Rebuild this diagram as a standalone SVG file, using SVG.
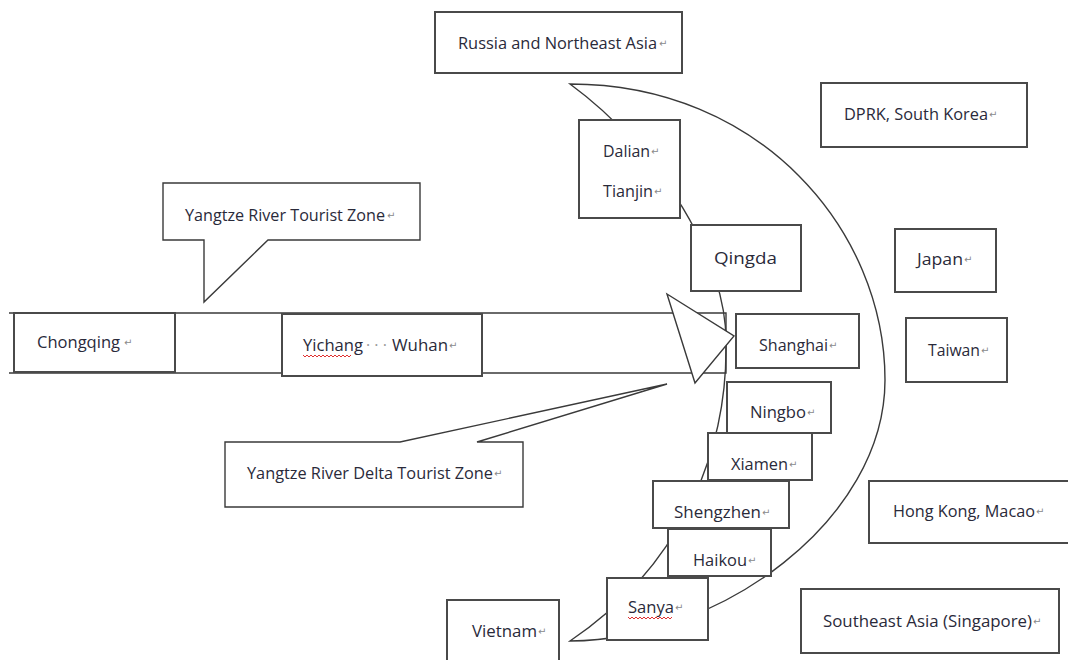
<svg xmlns="http://www.w3.org/2000/svg" width="1068" height="660" viewBox="0 0 1068 660">
<style>
.bx{fill:#fff;stroke:#4a4a4a;stroke-width:2}
.ln{fill:none;stroke:#3a3a3a;stroke-width:1.4}
.sh{fill:#fff;stroke:#3a3a3a;stroke-width:1.4}
.t{font-family:"Open Sans","Noto Sans",sans-serif;font-size:16px;fill:#2a2a3a}
.pm{font-family:"DejaVu Sans",sans-serif;font-size:10px;fill:#8a8a8a}
.sq{fill:none;stroke:#e03030;stroke-width:1}
</style>
<rect width="1068" height="660" fill="#fff"/>
<g id="connectors">
<path id="crescent" class="ln" d="M570,84 C760,84 885,230 885,380 C885,520 720,640 570,641 C690,560 727,440 726,345 C728,260 660,150 570,84 Z"/>
</g>
<g id="river">
<path class="ln" d="M9,313 H726 V373 H9"/>
<polygon class="sh" points="667,294 734,336 695,383"/>
</g>
<g id="callout-yangtze">
<path class="sh" d="M163,183 H420 V240 H268 L204,302 V240 H163 Z"/>
<text class="t" x="185" y="221" textLength="200" lengthAdjust="spacingAndGlyphs">Yangtze River Tourist Zone</text><text class="pm" x="387" y="219">↵</text>
</g>
<g id="callout-delta">
<path class="sh" d="M225,442 H400 L667,384 L477,442 H523 V507 H225 Z"/>
<text class="t" x="247" y="479" textLength="246" lengthAdjust="spacingAndGlyphs">Yangtze River Delta Tourist Zone</text><text class="pm" x="494" y="477">↵</text>
</g>
<g id="chongqing">
<rect class="bx" x="14" y="313" width="161" height="59"/>
<text class="t" x="37" y="348" textLength="83" lengthAdjust="spacingAndGlyphs">Chongqing</text><text class="pm" x="124" y="346">↵</text>
</g>
<g id="yichang-wuhan">
<rect class="bx" x="282" y="314" width="200" height="62"/>
<text class="t" y="351"><tspan x="303" textLength="60" lengthAdjust="spacingAndGlyphs">Yichang</tspan><tspan x="366" fill="#999">· · ·</tspan><tspan x="392" textLength="56" lengthAdjust="spacingAndGlyphs">Wuhan</tspan></text><text class="pm" x="449" y="349">↵</text>
<path class="sq" d="M303,355 l2,2 l2,-2 l2,2 l2,-2 l2,2 l2,-2 l2,2 l2,-2 l2,2 l2,-2 l2,2 l2,-2 l2,2 l2,-2 l2,2 l2,-2 l2,2 l2,-2 l2,2 l2,-2 l2,2 l2,-2 l2,2 l2,-2"/>
</g>
<g id="russia">
<rect class="bx" x="435" y="12" width="247" height="61"/>
<text class="t" x="458" y="49" textLength="199" lengthAdjust="spacingAndGlyphs">Russia and Northeast Asia</text><text class="pm" x="659" y="47">↵</text>
</g>
<g id="dalian-tianjin">
<rect class="bx" x="579" y="120" width="101" height="98"/>
<text class="t" x="603" y="157" textLength="47" lengthAdjust="spacingAndGlyphs">Dalian</text><text class="pm" x="651" y="155">↵</text>
<text class="t" x="603" y="197" textLength="50" lengthAdjust="spacingAndGlyphs">Tianjin</text><text class="pm" x="654" y="195">↵</text>
</g>
<g id="qingda">
<rect class="bx" x="691" y="225" width="110" height="66"/>
<text class="t" x="714" y="264" font-size="18" textLength="63" lengthAdjust="spacingAndGlyphs">Qingda</text>
</g>
<g id="shanghai">
<rect class="bx" x="736" y="314" width="123" height="54"/>
<text class="t" x="759" y="351" textLength="69" lengthAdjust="spacingAndGlyphs">Shanghai</text><text class="pm" x="829" y="349">↵</text>
</g>
<g id="ningbo">
<rect class="bx" x="727" y="382" width="104" height="51"/>
<text class="t" x="750" y="418" textLength="56" lengthAdjust="spacingAndGlyphs">Ningbo</text><text class="pm" x="807" y="416">↵</text>
</g>
<g id="xiamen">
<rect class="bx" x="708" y="433" width="104" height="47"/>
<text class="t" x="731" y="470" textLength="57" lengthAdjust="spacingAndGlyphs">Xiamen</text><text class="pm" x="789" y="468">↵</text>
</g>
<g id="shengzhen">
<rect class="bx" x="653" y="481" width="136" height="47"/>
<text class="t" x="674" y="518" textLength="87" lengthAdjust="spacingAndGlyphs">Shengzhen</text><text class="pm" x="762" y="516">↵</text>
</g>
<g id="haikou">
<rect class="bx" x="668" y="529" width="103" height="47"/>
<text class="t" x="693" y="566" textLength="54" lengthAdjust="spacingAndGlyphs">Haikou</text><text class="pm" x="748" y="564">↵</text>
</g>
<g id="sanya">
<rect class="bx" x="607" y="578" width="101" height="62"/>
<text class="t" x="628" y="613" textLength="46" lengthAdjust="spacingAndGlyphs">Sanya</text><text class="pm" x="675" y="611">↵</text>
<path class="sq" d="M628,617 l2,2 l2,-2 l2,2 l2,-2 l2,2 l2,-2 l2,2 l2,-2 l2,2 l2,-2 l2,2 l2,-2 l2,2 l2,-2 l2,2 l2,-2 l2,2 l2,-2 l2,2 l2,-2 l2,2 l2,-2"/>
</g>
<g id="vietnam">
<rect class="bx" x="447" y="600" width="112" height="70"/>
<text class="t" x="472" y="637" textLength="65" lengthAdjust="spacingAndGlyphs">Vietnam</text><text class="pm" x="538" y="635">↵</text>
</g>
<g id="dprk-korea">
<rect class="bx" x="821" y="83" width="206" height="64"/>
<text class="t" x="844" y="120" textLength="144" lengthAdjust="spacingAndGlyphs">DPRK, South Korea</text><text class="pm" x="989" y="118">↵</text>
</g>
<g id="japan">
<rect class="bx" x="895" y="229" width="101" height="63"/>
<text class="t" x="917" y="265" textLength="46" lengthAdjust="spacingAndGlyphs">Japan</text><text class="pm" x="964" y="263">↵</text>
</g>
<g id="taiwan">
<rect class="bx" x="906" y="318" width="101" height="64"/>
<text class="t" x="928" y="356" textLength="52" lengthAdjust="spacingAndGlyphs">Taiwan</text><text class="pm" x="981" y="354">↵</text>
</g>
<g id="hongkong-macao">
<rect class="bx" x="869" y="481" width="203" height="62"/>
<text class="t" x="893" y="517" textLength="142" lengthAdjust="spacingAndGlyphs">Hong Kong, Macao</text><text class="pm" x="1036" y="515">↵</text>
</g>
<g id="southeast-asia">
<rect class="bx" x="801" y="589" width="258" height="64"/>
<text class="t" x="823" y="627" textLength="209" lengthAdjust="spacingAndGlyphs">Southeast Asia (Singapore)</text><text class="pm" x="1033" y="625">↵</text>
</g>
</svg>
